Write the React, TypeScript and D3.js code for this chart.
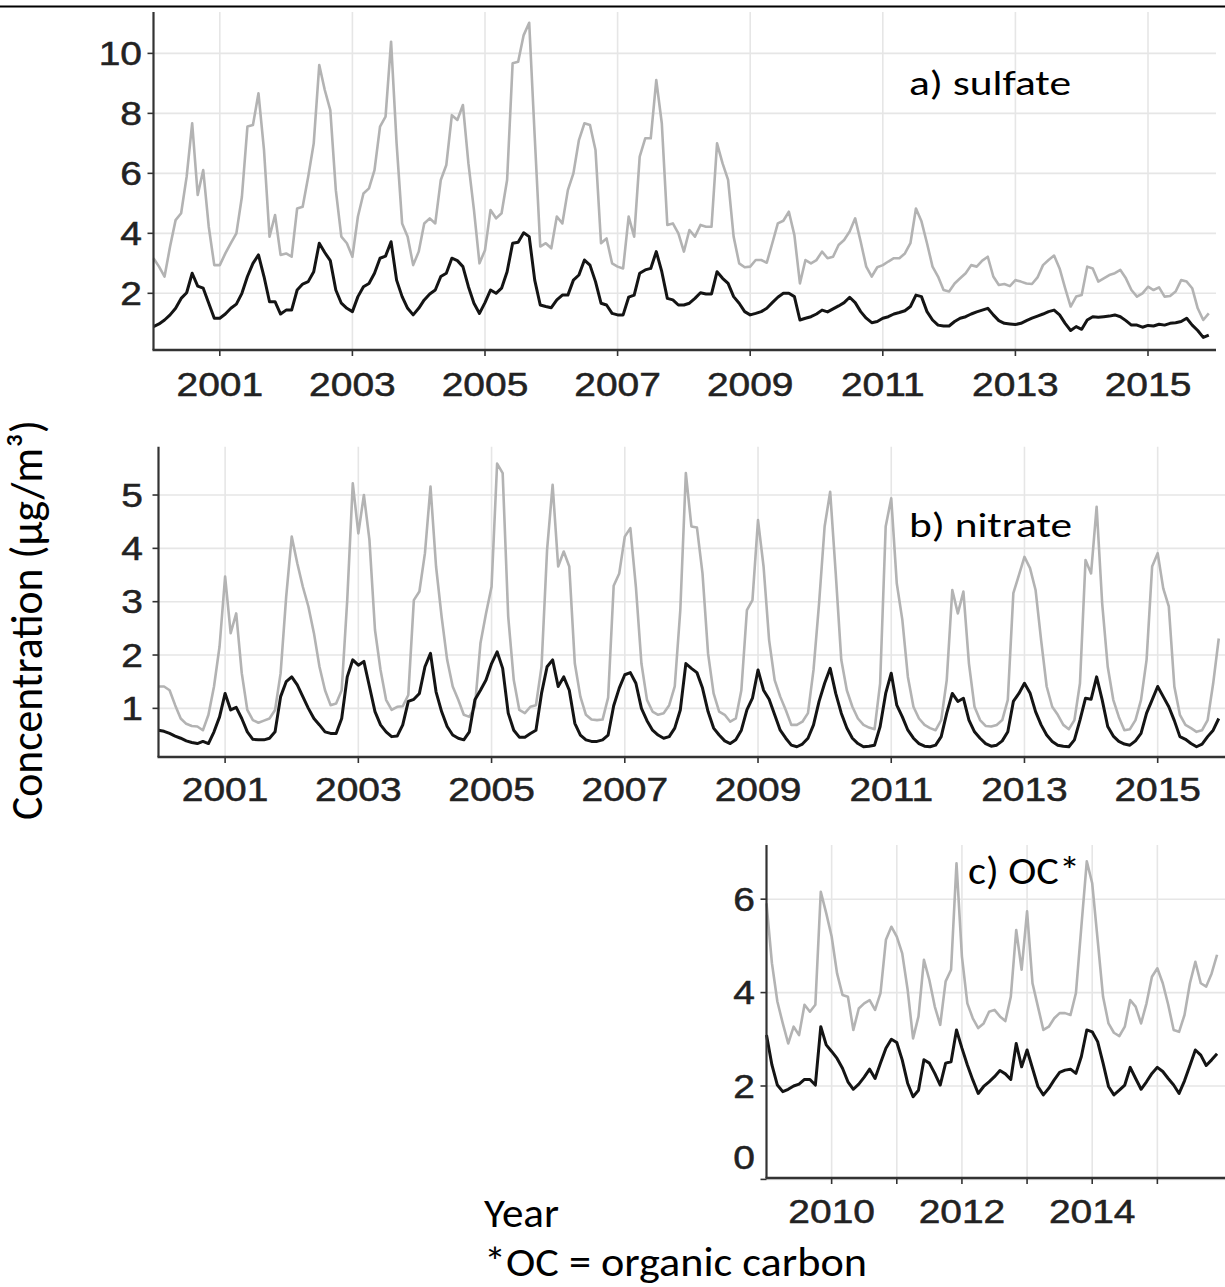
import React from "react";
import * as d3 from "d3";

// ---------------- DATA (monthly means) ----------------
// a) sulfate, Jan 2000 - Dec 2015
const sulfateUpper = [
  3.17, 2.89, 2.56, 3.56, 4.44, 4.67, 5.89, 7.67, 5.28, 6.11, 4.22, 2.94,
  2.94, 3.33, 3.67, 4.0, 5.22, 7.56, 7.61, 8.67, 6.78, 3.89, 4.61, 3.28,
  3.33, 3.22, 4.83, 4.89, 5.89, 7.0, 9.61, 8.78, 8.11, 5.44, 3.89, 3.67,
  3.22, 4.56, 5.33, 5.5, 6.11, 7.56, 7.89, 10.39, 7.0, 4.33, 3.89, 2.94,
  3.39, 4.33, 4.5, 4.33, 5.78, 6.28, 7.94, 7.78, 8.28, 6.33, 4.78, 3.0,
  3.44, 4.78, 4.5, 4.67, 5.78, 9.67, 9.72, 10.61, 11.02, 7.22, 3.56, 3.67,
  3.5, 4.56, 4.33, 5.44, 6.0, 7.11, 7.67, 7.61, 6.78, 3.67, 3.83, 3.0,
  2.89, 2.83, 4.56, 3.89, 6.56, 7.17, 7.17, 9.11, 7.67, 4.28, 4.33, 4.0,
  3.39, 4.11, 3.89, 4.28, 4.22, 4.22, 7.0, 6.33, 5.78, 3.89, 3.0, 2.87,
  2.89, 3.11, 3.11, 3.02, 3.67, 4.33, 4.42, 4.72, 3.94, 2.33, 3.11, 3.0,
  3.11, 3.39, 3.17, 3.22, 3.61, 3.78, 4.06, 4.5, 3.72, 2.89, 2.56, 2.87,
  2.94, 3.06, 3.17, 3.17, 3.33, 3.67, 4.83, 4.4, 3.67, 2.89, 2.56, 2.11,
  2.06, 2.33, 2.5, 2.67, 2.94, 2.89, 3.09, 3.22, 2.56, 2.28, 2.31, 2.24,
  2.44, 2.39, 2.33, 2.31, 2.53, 2.94, 3.11, 3.26, 2.83, 2.17, 1.56, 1.89,
  1.94, 2.89, 2.83, 2.39, 2.5, 2.61, 2.67, 2.78, 2.5, 2.11, 1.89, 2.0,
  2.22, 2.11, 2.2, 1.89, 1.91, 2.06, 2.44, 2.39, 2.17, 1.5, 1.11, 1.33,
];
const sulfateLower = [
  0.89, 0.98, 1.11, 1.28, 1.5, 1.83, 2.02, 2.67, 2.24, 2.17, 1.67, 1.17,
  1.17, 1.31, 1.5, 1.64, 2.0, 2.56, 3.0, 3.28, 2.56, 1.72, 1.72, 1.31,
  1.44, 1.44, 2.11, 2.31, 2.39, 2.72, 3.67, 3.36, 3.09, 2.11, 1.67, 1.5,
  1.39, 1.89, 2.22, 2.33, 2.67, 3.17, 3.24, 3.72, 2.44, 1.89, 1.5, 1.28,
  1.5, 1.78, 1.98, 2.11, 2.56, 2.67, 3.17, 3.09, 2.89, 2.22, 1.67, 1.33,
  1.69, 2.11, 2.0, 2.17, 2.72, 3.67, 3.7, 4.02, 3.89, 2.44, 1.61, 1.56,
  1.52, 1.78, 1.94, 1.94, 2.44, 2.61, 3.11, 2.94, 2.39, 1.67, 1.61, 1.33,
  1.28, 1.28, 1.87, 1.94, 2.67, 2.78, 2.83, 3.39, 2.72, 1.83, 1.78, 1.61,
  1.61, 1.67, 1.83, 2.02, 1.98, 1.98, 2.72, 2.5, 2.33, 1.89, 1.67, 1.39,
  1.28, 1.33, 1.39, 1.5, 1.69, 1.87, 2.0, 2.0, 1.89, 1.11, 1.17, 1.22,
  1.31, 1.44, 1.38, 1.48, 1.58, 1.69, 1.87, 1.69, 1.39, 1.17, 1.02, 1.06,
  1.17, 1.22, 1.31, 1.36, 1.42, 1.56, 1.94, 1.89, 1.39, 1.11, 0.94, 0.91,
  0.91, 1.06, 1.17, 1.22, 1.31, 1.38, 1.44, 1.5, 1.28, 1.09, 1.0, 0.98,
  0.96, 1.0, 1.09, 1.17, 1.24, 1.31, 1.39, 1.44, 1.28, 1.0, 0.76, 0.89,
  0.8, 1.11, 1.22, 1.2, 1.22, 1.24, 1.28, 1.22, 1.09, 0.94, 0.94, 0.87,
  0.93, 0.91, 0.97, 0.94, 1.0, 1.02, 1.06, 1.17, 0.94, 0.76, 0.53, 0.61,
];

// b) nitrate, Jan 2000 - Dec 2015
const nitrateUpper = [
  1.41, 1.41, 1.34, 1.06, 0.81, 0.71, 0.67, 0.66, 0.59, 0.88, 1.41, 2.16,
  3.47, 2.41, 2.78, 1.66, 0.97, 0.78, 0.73, 0.77, 0.81, 0.97, 1.66, 3.09,
  4.22, 3.72, 3.28, 2.91, 2.41, 1.78, 1.34, 1.06, 1.09, 1.34, 3.03, 5.22,
  4.28, 5.0, 4.16, 2.47, 1.72, 1.16, 0.97, 1.03, 1.04, 1.25, 3.03, 3.19,
  3.91, 5.16, 3.66, 2.72, 1.91, 1.41, 1.16, 0.88, 0.84, 1.03, 2.22, 2.78,
  3.28, 5.59, 5.41, 2.72, 1.53, 0.97, 0.91, 1.03, 1.06, 1.78, 3.97, 5.19,
  3.66, 3.94, 3.66, 1.84, 1.22, 0.88, 0.79, 0.78, 0.79, 1.2, 3.3, 3.53,
  4.22, 4.38, 3.28, 1.84, 1.16, 0.94, 0.88, 0.91, 1.06, 1.41, 2.84, 5.41,
  4.41, 4.39, 3.53, 2.03, 1.28, 0.94, 0.88, 0.75, 0.81, 1.34, 2.84, 3.03,
  4.53, 3.66, 2.28, 1.53, 1.22, 0.97, 0.69, 0.69, 0.75, 0.91, 1.72, 2.97,
  4.41, 5.06, 3.53, 1.91, 1.34, 1.03, 0.81, 0.69, 0.64, 0.61, 1.47, 4.41,
  4.94, 3.34, 2.66, 1.59, 1.03, 0.81, 0.69, 0.63, 0.59, 0.78, 1.53, 3.22,
  2.78, 3.19, 1.84, 1.03, 0.78, 0.67, 0.66, 0.69, 0.78, 1.16, 3.16, 3.5,
  3.84, 3.63, 3.22, 2.28, 1.41, 1.03, 0.88, 0.69, 0.61, 0.78, 1.47, 3.78,
  3.53, 4.78, 2.97, 1.78, 1.16, 0.84, 0.59, 0.61, 0.78, 1.16, 1.91, 3.66,
  3.91, 3.25, 2.91, 1.41, 0.88, 0.69, 0.63, 0.56, 0.59, 0.78, 1.47, 2.31,
];
const nitrateLower = [
  0.59, 0.57, 0.53, 0.48, 0.44, 0.39, 0.36, 0.34, 0.38, 0.34, 0.56, 0.84,
  1.28, 0.97, 1.02, 0.81, 0.56, 0.42, 0.41, 0.41, 0.44, 0.56, 1.22, 1.5,
  1.59, 1.44, 1.22, 1.0, 0.81, 0.69, 0.56, 0.53, 0.53, 0.81, 1.59, 1.91,
  1.81, 1.88, 1.41, 0.94, 0.69, 0.56, 0.47, 0.48, 0.69, 1.13, 1.17, 1.28,
  1.78, 2.03, 1.31, 0.94, 0.66, 0.5, 0.44, 0.41, 0.56, 1.16, 1.34, 1.53,
  1.84, 2.06, 1.75, 0.91, 0.59, 0.46, 0.46, 0.53, 0.59, 1.28, 1.78, 1.91,
  1.41, 1.59, 1.34, 0.72, 0.5, 0.41, 0.38, 0.38, 0.41, 0.5, 1.05, 1.38,
  1.63, 1.67, 1.47, 1.0, 0.77, 0.59, 0.5, 0.44, 0.47, 0.63, 0.97, 1.84,
  1.75, 1.67, 1.38, 0.94, 0.63, 0.5, 0.39, 0.34, 0.41, 0.59, 0.97, 1.19,
  1.72, 1.34, 1.17, 0.88, 0.59, 0.44, 0.31, 0.28, 0.33, 0.44, 0.69, 1.13,
  1.47, 1.75, 1.28, 0.91, 0.63, 0.44, 0.34, 0.28, 0.29, 0.31, 0.66, 1.28,
  1.66, 1.06, 0.84, 0.59, 0.44, 0.34, 0.29, 0.28, 0.31, 0.47, 0.91, 1.28,
  1.13, 1.19, 0.78, 0.56, 0.44, 0.34, 0.29, 0.31, 0.39, 0.56, 1.13, 1.28,
  1.47, 1.29, 0.94, 0.69, 0.5, 0.38, 0.31, 0.29, 0.28, 0.41, 0.78, 1.19,
  1.17, 1.59, 1.16, 0.66, 0.48, 0.38, 0.33, 0.31, 0.39, 0.53, 0.91, 1.16,
  1.41, 1.22, 1.03, 0.77, 0.47, 0.42, 0.34, 0.28, 0.33, 0.47, 0.59, 0.81,
];

// c) OC, Jan 2009 - Dec 2015
const ocUpper = [
  5.91, 4.63, 3.81, 3.34, 2.91, 3.27, 3.09, 3.74, 3.59, 3.74, 6.16, 5.7,
  5.2, 4.41, 3.95, 3.91, 3.2, 3.66, 3.77, 3.84, 3.63, 3.99, 5.13, 5.41,
  5.2, 4.84, 4.06, 3.02, 3.49, 4.7, 4.27, 3.7, 3.31, 4.24, 4.49, 6.77,
  4.77, 3.77, 3.45, 3.24, 3.34, 3.59, 3.63, 3.49, 3.39, 3.91, 5.34, 4.49,
  5.74, 4.2, 3.7, 3.2, 3.27, 3.45, 3.56, 3.56, 3.52, 3.99, 5.41, 6.81,
  6.34, 5.13, 3.91, 3.34, 3.14, 3.07, 3.27, 3.84, 3.7, 3.34, 3.77, 4.34,
  4.52, 4.2, 3.74, 3.2, 3.16, 3.52, 4.2, 4.66, 4.2, 4.13, 4.41, 4.81,
];
const ocLower = [
  3.09, 2.45, 2.02, 1.88, 1.93, 2.0, 2.04, 2.14, 2.14, 2.02, 3.27, 2.88,
  2.74, 2.59, 2.38, 2.09, 1.93, 2.04, 2.19, 2.36, 2.16, 2.49, 2.81, 3.0,
  2.93, 2.56, 2.06, 1.77, 1.91, 2.56, 2.49, 2.27, 2.02, 2.49, 2.52, 3.2,
  2.81, 2.45, 2.13, 1.84, 1.99, 2.09, 2.2, 2.33, 2.26, 2.14, 2.91, 2.41,
  2.77, 2.38, 1.99, 1.81, 1.95, 2.13, 2.29, 2.34, 2.36, 2.27, 2.63, 3.2,
  3.16, 2.95, 2.49, 1.99, 1.81, 1.91, 2.02, 2.4, 2.16, 1.93, 2.09, 2.27,
  2.4, 2.31, 2.16, 2.02, 1.84, 2.11, 2.44, 2.77, 2.66, 2.44, 2.56, 2.69,
];

// ticks
const yearTicksAB = [2001, 2003, 2005, 2007, 2009, 2011, 2013, 2015];
const sulfateYTicks = [2, 4, 6, 8, 10];
const nitrateYTicks = [1, 2, 3, 4, 5];
const ocYTicks = [0, 2, 4, 6];
const ocYearLabels = [2010, 2012, 2014];
const ocYearTicks = [2010, 2011, 2012, 2013, 2014, 2015];

// ---------------- STYLE ----------------
const TICK_FONT = "'Liberation Sans', Arial, Helvetica, sans-serif";
const NOTE_FONT = "Carlito, Calibri, Lato, 'Open Sans', sans-serif";
const GRID = "#e6e6e6";
const AXIS = "#333333";
const GRAY_LINE = "#b3b3b3";
const BLACK_LINE = "#141414";
const TXT = "#222222";

type PanelProps = {
  upper: number[];
  lower: number[];
  startYear: number;
  xDomain: [number, number];
  xRange: [number, number];
  yDomain: [number, number];
  yRange: [number, number];
  gridRight: number;
  yTicks: number[];
  xLabels: number[];
  xTicks: number[];
  xLabelBaseline: number;
  yLabelRight: number;
  yLabelOffset?: (v: number) => number;
};

function TickText(props: { x: number; y: number; text: string; anchor: string }) {
  return (
    <text
      transform={`translate(${props.x},${props.y}) scale(1.18,1)`}
      textAnchor={props.anchor}
      fontFamily={TICK_FONT}
      fontSize={33}
      fill={TXT}
      stroke={TXT}
      strokeWidth={0.5}
    >
      {props.text}
    </text>
  );
}

function Panel(p: PanelProps) {
  const x = d3.scaleLinear().domain(p.xDomain).range(p.xRange);
  const y = d3.scaleLinear().domain(p.yDomain).range(p.yRange);
  const line = d3
    .line<number>()
    .x((_, i) => x(p.startYear + i / 12))
    .y((d) => y(d));
  const left = p.xRange[0];
  const bottom = p.yRange[0];
  const top = p.yRange[1];
  return (
    <g>
      {p.yTicks.map((t) => (
        <line key={"gy" + t} x1={left} x2={p.gridRight} y1={y(t)} y2={y(t)} stroke={GRID} strokeWidth={1.6} />
      ))}
      {p.xTicks.map((t) => (
        <line key={"gx" + t} x1={x(t)} x2={x(t)} y1={top} y2={bottom} stroke={GRID} strokeWidth={1.6} />
      ))}
      <path d={line(p.upper) || ""} fill="none" stroke={GRAY_LINE} strokeWidth={2.6} strokeLinejoin="round" />
      <path d={line(p.lower) || ""} fill="none" stroke={BLACK_LINE} strokeWidth={3} strokeLinejoin="round" />
      <line x1={left} x2={left} y1={top} y2={bottom} stroke={AXIS} strokeWidth={2.2} />
      <line x1={left - 1} x2={p.gridRight} y1={bottom} y2={bottom} stroke={AXIS} strokeWidth={2.6} />
      {p.yTicks.map((t) => (
        <line key={"ty" + t} x1={left - 6} x2={left} y1={y(t)} y2={y(t)} stroke={AXIS} strokeWidth={1.6} />
      ))}
      {p.xTicks.map((t) => (
        <line key={"tx" + t} x1={x(t)} x2={x(t)} y1={bottom} y2={bottom + 6} stroke={AXIS} strokeWidth={1.6} />
      ))}
      {p.yTicks.map((t) => (
        <TickText
          key={"ly" + t}
          x={p.yLabelRight}
          y={(p.yLabelOffset ? p.yLabelOffset(t) : 0) + y(t) + 11.8}
          text={String(t)}
          anchor="end"
        />
      ))}
      {p.xLabels.map((t) => (
        <TickText key={"lx" + t} x={x(t)} y={p.xLabelBaseline} text={String(t)} anchor="middle" />
      ))}
    </g>
  );
}

function Note(props: { x: number; y: number; text: string; size: number; len: number }) {
  return (
    <text
      x={props.x}
      y={props.y}
      fontFamily={NOTE_FONT}
      fontSize={props.size}
      fill="#000"
      textLength={props.len}
      lengthAdjust="spacingAndGlyphs"
    >
      {props.text}
    </text>
  );
}

export default function App() {
  return (
    <svg width={1225} height={1287} style={{ display: "block", position: "absolute", left: 0, top: 0, background: "#fff" }}>
      <rect x={0} y={0} width={1225} height={1287} fill="#fff" />
      <line x1={0} x2={1225} y1={6.5} y2={6.5} stroke="#000" strokeWidth={2.2} />

      <Panel
        upper={sulfateUpper}
        lower={sulfateLower}
        startYear={2000}
        xDomain={[2000, 2016]}
        xRange={[153.5, 1214.3]}
        yDomain={[0.11, 11.38]}
        yRange={[350, 12]}
        gridRight={1216}
        yTicks={sulfateYTicks}
        xLabels={yearTicksAB}
        xTicks={yearTicksAB}
        xLabelBaseline={396}
        yLabelRight={142}
      />
      <Panel
        upper={nitrateUpper}
        lower={nitrateLower}
        startYear={2000}
        xDomain={[2000, 2016]}
        xRange={[158.5, 1224.3]}
        yDomain={[0.088, 5.906]}
        yRange={[757, 446.7]}
        gridRight={1225}
        yTicks={nitrateYTicks}
        xLabels={yearTicksAB}
        xTicks={yearTicksAB}
        xLabelBaseline={801}
        yLabelRight={143}
      />
      <Panel
        upper={ocUpper}
        lower={ocLower}
        startYear={2009}
        xDomain={[2009, 2016]}
        xRange={[766.5, 1222.5]}
        yDomain={[0.03, 7.16]}
        yRange={[1178, 845]}
        gridRight={1225}
        yTicks={ocYTicks}
        xLabels={ocYearLabels}
        xTicks={ocYearTicks}
        xLabelBaseline={1223}
        yLabelRight={755}
        yLabelOffset={(v) => (v === 0 ? -22 : 0)}
      />

      <Note x={909} y={95} text="a) sulfate" size={35} len={162} />
      <Note x={909} y={536.5} text="b) nitrate" size={35} len={163} />
      <Note x={968} y={884} text="c) OC*" size={39} len={112} />
      <Note x={484} y={1227} text="Year" size={42} len={75} />
      <Note x={484} y={1276} text="*OC = organic carbon" size={42} len={383} />

      <text
        transform="translate(42,620) scale(1.18,1) rotate(-90)"
        textAnchor="middle"
        fontFamily={NOTE_FONT}
        fontSize={38}
        fill="#000"
        textLength={400}
        lengthAdjust="spacingAndGlyphs"
      >
        Concentration (µg/m³)
      </text>
    </svg>
  );
}
